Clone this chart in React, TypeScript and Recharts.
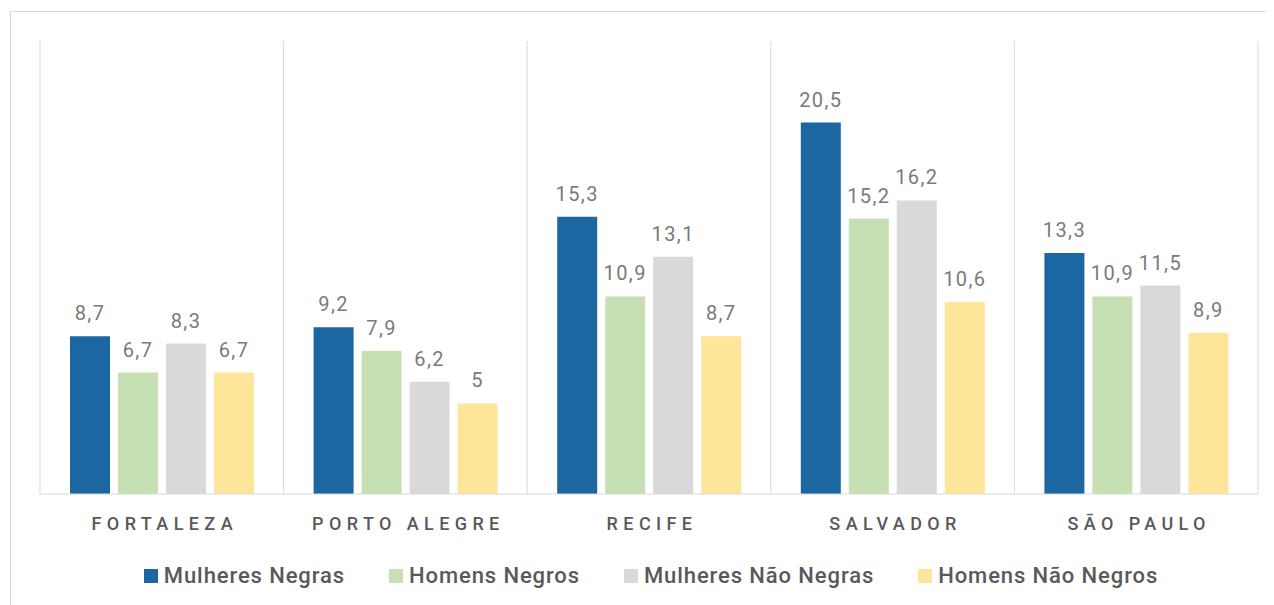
import { BarChart, Bar, XAxis, YAxis, CartesianGrid, Legend, LabelList } from 'recharts';

const cities = ['FORTALEZA', 'PORTO ALEGRE', 'RECIFE', 'SALVADOR', 'SÃO PAULO'];
const mulheresNegras = [8.7, 9.2, 15.3, 20.5, 13.3];
const homensNegros = [6.7, 7.9, 10.9, 15.2, 10.9];
const mulheresNaoNegras = [8.3, 6.2, 13.1, 16.2, 11.5];
const homensNaoNegros = [6.7, 5, 8.7, 10.6, 8.9];

const SERIES = [
  { key: 'mn', name: 'Mulheres Negras', color: '#1c66a1', values: mulheresNegras },
  { key: 'hn', name: 'Homens Negros', color: '#c6e0b4', values: homensNegros },
  { key: 'mnn', name: 'Mulheres Não Negras', color: '#d9d9d9', values: mulheresNaoNegras },
  { key: 'hnn', name: 'Homens Não Negros', color: '#fde599', values: homensNaoNegros },
];

const data = cities.map((city, i) => {
  const row: Record<string, any> = { city, slot: i + 0.5 };
  SERIES.forEach(s => {
    row[s.key] = s.values[i];
  });
  return row;
});

const FONT = 'Roboto, "DejaVu Sans", sans-serif';
const TEXT = '#595959';

const fmt = (v: any) => String(v).replace('.', ',');

function CityTick({ x, y, payload }: any) {
  return (
    <text
      x={x + 3}
      y={y}
      dy={28}
      textAnchor="middle"
      fill={TEXT}
      fontSize={18}
      fontWeight={500}
      fontFamily={FONT}
      letterSpacing={5.4}
    >
      {payload.value}
    </text>
  );
}

function LegendBox() {
  return (
    <div
      style={{
        display: 'flex',
        justifyContent: 'center',
        gap: 44,
        fontFamily: FONT,
        fontSize: 22,
        fontWeight: 500,
        color: TEXT,
        letterSpacing: 0.9,
        paddingLeft: 4,
      }}
    >
      {SERIES.map(s => (
        <div key={s.key} style={{ display: 'flex', alignItems: 'center' }}>
          <span style={{ width: 14, height: 14, background: s.color, marginRight: 6, display: 'inline-block' }} />
          <span>{s.name}</span>
        </div>
      ))}
    </div>
  );
}

export default function App() {
  return (
    <div style={{ position: 'relative', width: 1266, height: 597 }}>
      <div
        style={{
          position: 'absolute',
          left: 2,
          top: 3,
          width: 1280,
          height: 620,
          border: '1px solid #d9d9d9',
        }}
      />
      <BarChart
        width={1266}
        height={597}
        data={data}
        margin={{ top: 33, right: 16, left: 32, bottom: 2 }}
        barCategoryGap={30}
        barGap={8}
        style={{ position: 'relative' }}
      >
        <CartesianGrid xAxisId="grid" vertical horizontal={false} stroke="#d9d9d9" />
        <XAxis
          dataKey="city"
          height={69}
          tickLine={false}
          axisLine={{ stroke: '#d9d9d9' }}
          tick={<CityTick />}
          interval={0}
        />
        <XAxis
          xAxisId="grid"
          type="number"
          dataKey="slot"
          domain={[0, 5]}
          ticks={[0, 1, 2, 3, 4, 5]}
          hide
        />
        <YAxis domain={[0, 25]} hide />
        <Legend verticalAlign="bottom" height={40} content={<LegendBox />} />
        {SERIES.map(s => (
          <Bar key={s.key} dataKey={s.key} name={s.name} fill={s.color} isAnimationActive={false}>
            <LabelList
              dataKey={s.key}
              position="top"
              offset={16}
              formatter={fmt}
              fill="#7a7a7a"
              fontSize={20}
              fontWeight={400}
              fontFamily={FONT}
              letterSpacing={1.4}
            />
          </Bar>
        ))}
      </BarChart>
    </div>
  );
}
